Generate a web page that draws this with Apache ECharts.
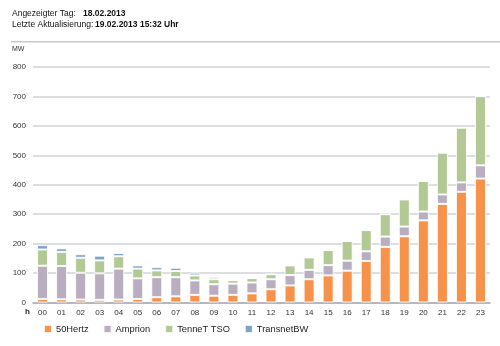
<!DOCTYPE html>
<html>
<head>
<meta charset="utf-8">
<script src="https://cdn.jsdelivr.net/npm/echarts@6/dist/echarts.min.js"></script>
<style>
html,body{margin:0;padding:0;background:#fff;}
#c{width:500px;height:346px;}
</style>
</head>
<body>
<div id="c"></div>
<script>
var hours = ['00','01','02','03','04','05','06','07','08','09','10','11','12','13','14','15','16','17','18','19','20','21','22','23'];
var yTicks = [0,100,200,300,400,500,600,700,800];
var hertz50 = [12,11,10,9,10,12,18,21,26,23,26,31,45,58,79,92,108,141,189,225,279,335,376,421];
var amprion = [113,113,91,90,105,70,68,65,49,39,38,37,34,35,32,35,34,33,35,33,30,32,32,45];
var tennet = [55,48,51,44,42,33,23,21,17,17,12,15,17,33,42,51,67,72,76,92,104,142,186,235];
var transnet = [15,12,12,16,11,11,11,11,9,7,2,0,0,0,0,0,0,0,0,0,0,0,0,0];
var seriesNames = ['50Hertz','Amprion','TenneT TSO','TransnetBW'];
var colors = ['#f7924b','#b9aec0','#b3c995','#7ea4c5'];

var font = 'Liberation Sans, Arial, Helvetica, sans-serif';
var chart = echarts.init(document.getElementById('c'), null, {renderer:'canvas'});
var data = [hertz50, amprion, tennet, transnet];
var series = data.map(function(d,i){
  return {
    name: seriesNames[i], type:'bar', stack:'total', data:d, barWidth:11,
    itemStyle:{color:colors[i], borderColor:'rgba(255,255,255,0.85)', borderWidth:1},
    emphasis:{disabled:true}
  };
});
chart.setOption({
  animation:false,
  textStyle:{fontFamily:font},
  grid:{left:33,right:10,top:67,bottom:43.5,containLabel:false},
  legend:{
    left:43, top:324, itemWidth:8, itemHeight:8, itemGap:14,
    icon:'rect', padding:0,
    textStyle:{fontSize:9.3, color:'#222', fontFamily:font, padding:[0,0,0,-1]},
    data:seriesNames
  },
  xAxis:{
    type:'category', data:hours,
    axisTick:{show:false},
    axisLine:{lineStyle:{color:'#a9a9b0', width:1.5}},
    axisLabel:{fontSize:8, color:'#333', margin:6, fontFamily:font},
    splitLine:{show:false}
  },
  yAxis:{
    type:'value', min:yTicks[0], max:yTicks[yTicks.length-1], interval:100,
    axisLine:{show:false}, axisTick:{show:false},
    axisLabel:{fontSize:8, color:'#333', margin:7, fontFamily:font},
    splitLine:{lineStyle:{color:'#d2d3d8', width:1.5}}
  },
  graphic:[
    {type:'text', left:12, top:9, style:{text:'Angezeigter Tag:', fill:'#111', font:'8.5px '+font}},
    {type:'text', left:83, top:9, style:{text:'18.02.2013', fill:'#111', font:'bold 8.5px '+font}},
    {type:'text', left:12, top:20, style:{text:'Letzte Aktualisierung:', fill:'#111', font:'8.5px '+font}},
    {type:'text', left:95, top:20, style:{text:'19.02.2013 15:32 Uhr', fill:'#111', font:'bold 8.5px '+font}},
    {type:'rect', shape:{x:11, y:41, width:489, height:1.5}, style:{fill:'#c8c8d0'}},
    {type:'text', left:12, top:46, style:{text:'MW', fill:'#333', font:'7px '+font}},
    {type:'text', left:25, top:308, style:{text:'h', fill:'#222', font:'bold 8px '+font}}
  ],
  series:series
});
</script>
</body>
</html>
